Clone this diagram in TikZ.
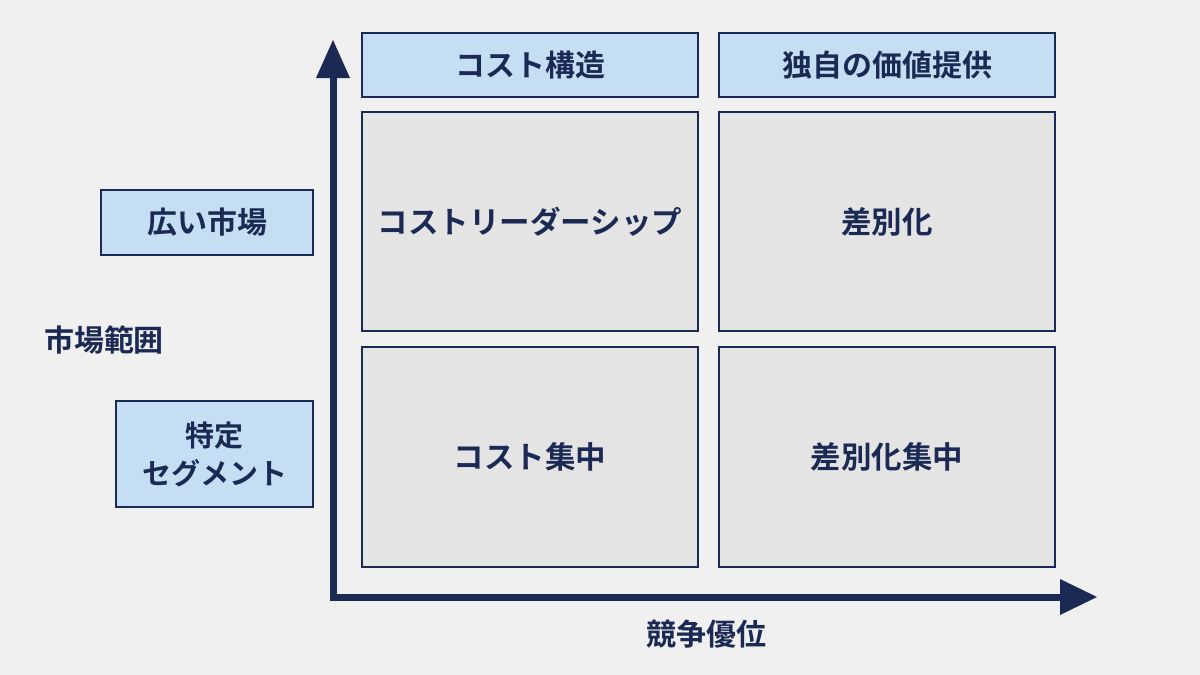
\documentclass[tikz,border=0pt]{standalone}
\usepackage{fontspec}
\setmainfont{Noto Sans CJK JP}[BoldFont={Noto Sans CJK JP Bold}]
\definecolor{navy}{HTML}{1B2A55}
\definecolor{lblue}{HTML}{C6DEF3}
\definecolor{qgray}{HTML}{E4E4E4}
\definecolor{bg}{HTML}{F0F0F0}
\begin{document}
\begin{tikzpicture}[x=1pt,y=-1pt,
  hdr/.style={draw=navy,line width=2.5pt,fill=lblue,text=navy,font=\bfseries\fontsize{30}{36}\selectfont,align=center},
  quad/.style={draw=navy,line width=2.5pt,fill=qgray,text=navy,font=\bfseries\fontsize{30.5}{36}\selectfont},
  lbl/.style={text=navy,font=\bfseries\fontsize{30}{36}\selectfont,inner sep=0pt}]
\fill[bg] (0,0) rectangle (1200,675);
\useasboundingbox (0,0) rectangle (1200,675);
% quadrants
\node[quad,minimum width=336pt,minimum height=219pt] (tl) at (530,221.5) {コストリーダーシップ};
\node[quad,minimum width=336pt,minimum height=219pt] (tr) at (887,221.5) {差別化};
\node[quad,minimum width=336pt,minimum height=220pt] (bl) at (530,457) {コスト集中};
\node[quad,minimum width=336pt,minimum height=220pt] (br) at (887,457) {差別化集中};
% headers
\node[hdr,minimum width=336pt,minimum height=64pt] (h1) at (530,65) {コスト構造};
\node[hdr,minimum width=336pt,minimum height=64pt] (h2) at (887,65) {独自の価値提供};
% row labels
\node[hdr,minimum width=212pt,minimum height=65pt] (r1) at (207,222.5) {広い市場};
\node[hdr,minimum width=197pt,minimum height=106pt,font=\bfseries\fontsize{29}{38}\selectfont] (r2) at (214.5,454) {特定\\セグメント};
% axis labels
\node[lbl] (yl) at (104,340) {市場範囲};
\node[lbl] (xl) at (706,634) {競争優位};
% axes
\coordinate (o) at (333,597);
\coordinate (yt) at (333,40);
\coordinate (xt) at (1097,597);
\draw[navy,line width=7pt] (333,600.5) -- (333,76);
\draw[navy,line width=7pt] (329.5,597) -- (1062,597);
\fill[navy] (yt) -- (350,78) -- (316,78) -- cycle;
\fill[navy] (xt) -- (1060,579) -- (1060,615) -- cycle;
\end{tikzpicture}
\end{document}
